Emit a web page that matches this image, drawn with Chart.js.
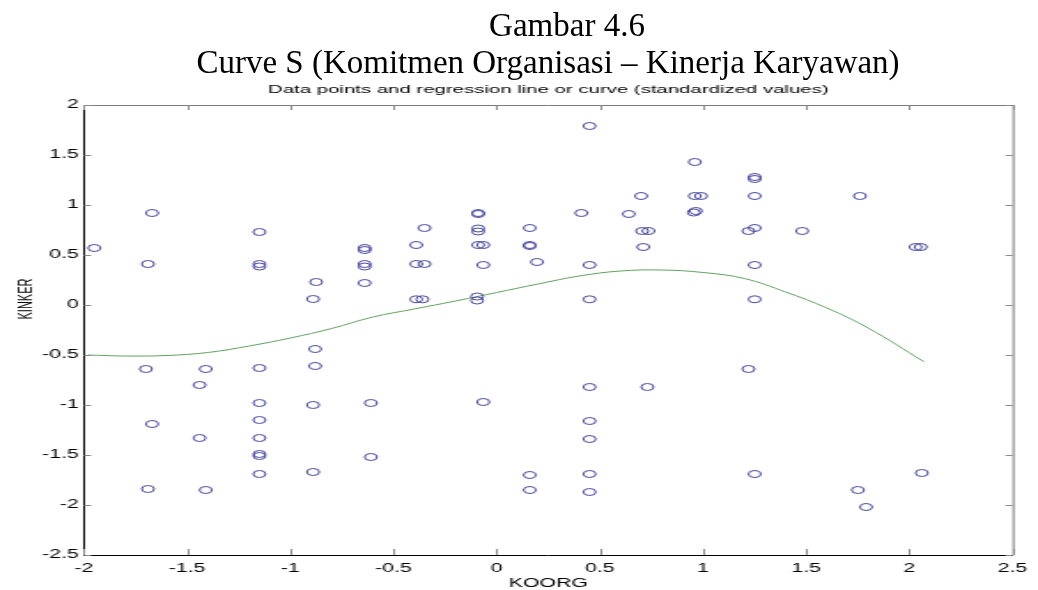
<!DOCTYPE html>
<html>
<head>
<meta charset="utf-8">
<script src="https://cdn.jsdelivr.net/npm/chart.js@4/dist/chart.umd.min.js"></script>
<style>
  html, body { margin: 0; padding: 0; background: #fff; }
  #page { position: relative; width: 1038px; height: 590px; overflow: hidden; }
  .caption {
    position: absolute;
    font-family: "Liberation Serif", "Times New Roman", serif;
    font-size: 33px;
    line-height: 33px;
    white-space: nowrap;
    color: #000;
    transform: translateX(-50%);
    z-index: 2;
  }
  #plot {
    position: absolute; left: 0; top: 0;
    transform: scaleX(1.77133);
    transform-origin: 0 0;
  }
</style>
</head>
<body>
<div id="page">
  <div class="caption" style="left:567px; top:9px;">Gambar 4.6</div>
  <div class="caption" style="left:548px; top:46px;">Curve S (Komitmen Organisasi – Kinerja Karyawan)</div>
  <canvas id="plot" width="586" height="590"></canvas>
</div>
<script>
// standardized scores
const koorgValues = [
  -1.95, -1.67, -1.69, -1.70, -1.67, -1.69, -1.41, -1.44, -1.44, -1.41,
  -1.15, -1.15, -1.15, -1.15, -1.15, -1.15, -1.15, -1.15, -1.15, -1.15,
  -0.875, -0.89, -0.88, -0.88, -0.89, -0.89,
  -0.64, -0.64, -0.64, -0.64, -0.64, -0.61, -0.61,
  -0.35, -0.39, -0.39, -0.35, -0.39, -0.36,
  -0.09, -0.09, -0.09, -0.09, -0.09, -0.065, -0.065, -0.095, -0.095, -0.065,
  0.16, 0.16, 0.16, 0.195, 0.16, 0.16,
  0.41, 0.45, 0.45, 0.45, 0.45, 0.45, 0.45, 0.45, 0.45,
  0.64, 0.70, 0.705, 0.735, 0.71, 0.73,
  0.96, 0.96, 0.99, 0.955, 0.965,
  1.25, 1.25, 1.25, 1.22, 1.25, 1.25, 1.25, 1.22, 1.25,
  1.48, 1.76, 1.75, 1.79, 2.03, 2.055, 2.06
];
const kinkerValues = [
  0.57, 0.92, 0.41, -0.64, -1.19, -1.84, -0.64, -0.80, -1.33, -1.85,
  0.73, 0.41, 0.385, -0.63, -0.98, -1.15, -1.33, -1.49, -1.51, -1.69,
  0.23, 0.06, -0.44, -0.61, -1.00, -1.67,
  0.57, 0.55, 0.41, 0.385, 0.22, -0.98, -1.52,
  0.77, 0.60, 0.41, 0.41, 0.057, 0.057,
  0.92, 0.91, 0.765, 0.735, 0.60, 0.60, 0.40, 0.085, 0.045, -0.97,
  0.77, 0.60, 0.59, 0.43, -1.70, -1.85,
  0.92, 1.79, 0.40, 0.057, -0.82, -1.16, -1.34, -1.69, -1.87,
  0.91, 1.09, 0.74, 0.74, 0.58, -0.82,
  1.43, 1.09, 1.09, 0.925, 0.94,
  1.28, 1.26, 1.09, 0.74, 0.77, 0.40, 0.057, -0.64, -1.69,
  0.74, 1.09, -1.85, -2.02, 0.58, 0.58, -1.68
];

// fitted S curve
const curveX = [-1.98, -1.8, -1.6, -1.4, -1.2, -1.0, -0.8, -0.6, -0.4, -0.2, 0, 0.2, 0.4, 0.6, 0.8, 1.0, 1.2, 1.4, 1.6, 1.8, 2.07];
const curveY = [-0.50, -0.51, -0.505, -0.475, -0.41, -0.33, -0.235, -0.12, -0.04, 0.04, 0.125, 0.21, 0.29, 0.34, 0.35, 0.325, 0.265, 0.13, -0.03, -0.23, -0.567];

const xTitle = 'KOORG';
const yTitle = 'KINKER';

const fontFamily = '"Liberation Sans", Arial, sans-serif';
const axisFont = { family: fontFamily, size: 12 };

function formatTick(value) {
  return String(Math.round(value * 10) / 10);
}

// MATLAB style box: grey top/right edges, inward ticks, y label
const boxTicks = {
  id: 'boxTicks',
  afterDraw(chart) {
    const { ctx, chartArea: a, scales } = chart;
    ctx.save();
    ctx.lineWidth = 1;
    ctx.strokeStyle = '#7a7a7a';
    ctx.beginPath();
    ctx.moveTo(a.left, a.top + 0.5);
    ctx.lineTo(a.right + 0.5, a.top + 0.5);
    ctx.lineTo(a.right + 0.5, a.bottom);
    ctx.stroke();

    ctx.strokeStyle = '#8a8a8a';
    ctx.beginPath();
    scales.x.ticks.forEach(t => {
      const px = Math.round(scales.x.getPixelForValue(t.value)) + 0.5;
      ctx.moveTo(px, a.bottom); ctx.lineTo(px, a.bottom - 6);
      ctx.moveTo(px, a.top); ctx.lineTo(px, a.top + 5);
    });
    scales.y.ticks.forEach(t => {
      const py = Math.round(scales.y.getPixelForValue(t.value)) + 0.5;
      ctx.moveTo(a.left, py); ctx.lineTo(a.left + 4, py);
      ctx.moveTo(a.right, py); ctx.lineTo(a.right - 4, py);
    });
    ctx.stroke();

    // y axis name sits a bit above the middle of the axis
    ctx.translate(14.7, 299);
    ctx.rotate(-Math.PI / 2);
    ctx.fillStyle = '#000';
    ctx.font = '11px ' + fontFamily;
    ctx.textAlign = 'center';
    ctx.textBaseline = 'middle';
    ctx.fillText(yTitle, 0, 0);
    ctx.restore();
  }
};

const points = koorgValues.map((x, i) => ({ x: x, y: kinkerValues[i] }));
const curve = curveX.map((x, i) => ({ x: x, y: curveY[i] }));

new Chart(document.getElementById('plot'), {
  type: 'scatter',
  data: {
    datasets: [
      {
        label: 'data',
        data: points,
        pointStyle: 'circle',
        pointRadius: 3.5,
        pointBorderWidth: 1,
        pointBorderColor: '#4646a0',
        pointBackgroundColor: 'rgba(0,0,0,0)'
      },
      {
        label: 'curve',
        data: curve,
        showLine: true,
        tension: 0.4,
        pointRadius: 0,
        borderWidth: 1,
        borderColor: '#5fa05f'
      }
    ]
  },
  options: {
    responsive: false,
    animation: false,
    devicePixelRatio: 1,
    layout: { padding: { left: 0, right: 10.16, top: 0, bottom: 0 } },
    plugins: {
      legend: { display: false },
      tooltip: { enabled: false },
      title: {
        display: true,
        fullSize: false,
        text: 'Data points and regression line or curve (standardized values)',
        color: '#000',
        font: { family: fontFamily, size: 11.5, weight: 'normal', lineHeight: 1.2 },
        padding: { top: 83, bottom: 8.2 }
      }
    },
    scales: {
      x: {
        type: 'linear',
        min: -2, max: 2.5,
        ticks: { stepSize: 0.5, color: '#000', font: axisFont, padding: 6, maxRotation: 0, callback: formatTick },
        grid: { display: false, drawTicks: false },
        border: { display: true, color: '#000', width: 1 },
        title: { display: true, text: xTitle, color: '#000', font: { family: fontFamily, size: 12, lineHeight: 1 }, padding: 0 },
        afterFit(scale) { scale.height = 35; }
      },
      y: {
        type: 'linear',
        min: -2.5, max: 2,
        ticks: { stepSize: 0.5, color: '#000', font: axisFont, padding: 3, callback: formatTick },
        grid: { display: false, drawTicks: false },
        border: { display: true, color: '#000', width: 1 },
        afterFit(scale) { scale.width = 47.42; }
      }
    }
  },
  plugins: [boxTicks]
});
</script>
</body>
</html>
